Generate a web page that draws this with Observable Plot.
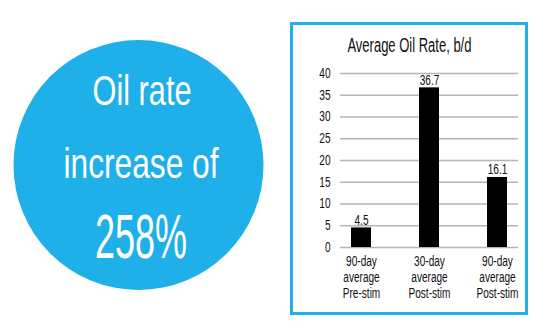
<!DOCTYPE html>
<html>
<head>
<meta charset="utf-8">
<script src="https://cdn.jsdelivr.net/npm/d3@7"></script>
<script src="https://cdn.jsdelivr.net/npm/@observablehq/plot@0.6"></script>
<style>
  html, body { margin: 0; padding: 0; background: #fff; }
  #wrap { position: relative; width: 546px; height: 334px; overflow: hidden; font-family: "Liberation Sans", Arial, sans-serif; }
  #deco { position: absolute; left: 0; top: 0; }
  #chart { position: absolute; left: 0; top: 0; }
  #title { position: absolute; left: 292px; width: 235px; top: 33px; text-align: center; font-size: 20px; line-height: 24px; color: #111; white-space: nowrap; }
  #title span { display: inline-block; transform: scaleX(0.65); transform-origin: center; }
</style>
</head>
<body>
<div id="wrap">
  <svg id="deco" width="546" height="334" font-family="Liberation Sans, Arial, sans-serif">
    <circle cx="138.5" cy="165" r="125" fill="#1FAFE9"/>
    <text x="142" y="105" text-anchor="middle" fill="#fff" font-size="43" textLength="99" lengthAdjust="spacingAndGlyphs">Oil rate</text>
    <text x="141" y="178" text-anchor="middle" fill="#fff" font-size="43" textLength="155" lengthAdjust="spacingAndGlyphs">increase of</text>
    <text x="141" y="258" text-anchor="middle" fill="#fff" font-size="63" textLength="92" lengthAdjust="spacingAndGlyphs">258%</text>
    <rect x="291.5" y="23.5" width="235" height="290" fill="none" stroke="#1FAFE9" stroke-width="3"/>
  </svg>
  <div id="title"><span>Average Oil Rate, b/d</span></div>
  <div id="chart"></div>
</div>
<script>
const categories = ["90-day\naverage\nPre-stim", "30-day\naverage\nPost-stim", "90-day\naverage\nPost-stim"];
const values = [4.5, 36.7, 16.1];
const yTicks = [0, 5, 10, 15, 20, 25, 30, 35, 40];

const data = categories.map((c, i) => ({category: c, value: values[i]}));

const chart = Plot.plot({
  width: 546,
  height: 334,
  marginLeft: 340,
  marginRight: 28,
  marginTop: 73,
  marginBottom: 87,
  style: {fontFamily: "Liberation Sans, Arial, sans-serif", fontSize: "14px", color: "#111", background: "transparent", overflow: "visible"},
  x: {domain: categories, range: [326, 532], padding: 0, label: null},
  y: {domain: [0, 40], ticks: yTicks, label: null},
  marks: [
    Plot.ruleY(yTicks, {stroke: "#b5b5b5", strokeWidth: 1.5}),
    Plot.barY(data, {x: "category", y: "value", fill: "#000", insetLeft: 24, insetRight: 24}),
    Plot.text(data, {x: "category", y: "value", text: d => d.value.toFixed(1), lineAnchor: "bottom", dy: -3, fill: "#111", fontSize: 14}),
    Plot.axisY({ticks: yTicks, tickSize: 0, tickPadding: 10, label: null, fontSize: 14}),
    Plot.axisX({tickSize: 0, tickPadding: 7, label: null, fontSize: 14, lineHeight: 1.15})
  ]
});
document.getElementById("chart").appendChild(chart);

// condense chart text to mimic the narrow display font
chart.querySelectorAll("text").forEach(t => {
  const spans = t.querySelectorAll("tspan");
  const targets = spans.length ? Array.from(spans) : [t];
  targets.forEach(el => {
    const w = el.getComputedTextLength();
    if (w > 0) {
      el.setAttribute("textLength", (w * 0.72).toFixed(2));
      el.setAttribute("lengthAdjust", "spacingAndGlyphs");
    }
  });
});
</script>
</body>
</html>
